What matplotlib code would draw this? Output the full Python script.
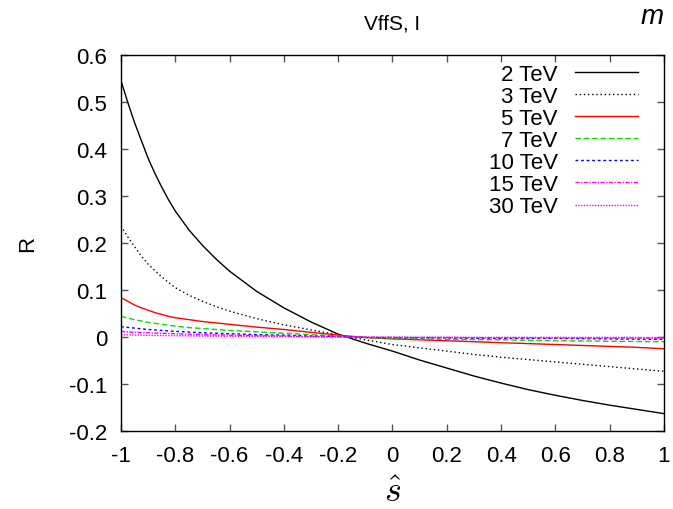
import matplotlib
matplotlib.use("Agg")
import matplotlib.pyplot as plt

plt.rcParams['font.family'] = ['Liberation Sans', 'DejaVu Sans']
plt.rcParams['mathtext.fontset'] = 'cm'

# s-hat grid and R values
s_hat = [-1.0, -0.975, -0.95, -0.925, -0.9, -0.875, -0.85, -0.825, -0.8,
         -0.75, -0.7, -0.65, -0.6, -0.5, -0.4, -0.3, -0.2, -0.1, 0.0, 0.1,
         0.2, 0.3, 0.4, 0.5, 0.6, 0.7, 0.8, 0.9, 1.0]

r_2tev = [0.545, 0.499, 0.456, 0.418, 0.380, 0.348, 0.319, 0.292, 0.268,
          0.228, 0.195, 0.166, 0.140, 0.097, 0.062, 0.032, 0.006, -0.013,
          -0.030, -0.049, -0.066, -0.083, -0.098, -0.112, -0.124, -0.135,
          -0.145, -0.154, -0.163]
r_3tev = [0.236, 0.213, 0.192, 0.172, 0.155, 0.141, 0.128, 0.116, 0.105,
          0.089, 0.076, 0.065, 0.055, 0.039, 0.026, 0.015, 0.005, -0.006,
          -0.016, -0.023, -0.030, -0.037, -0.043, -0.048, -0.053, -0.058,
          -0.063, -0.068, -0.073]
r_5tev = [0.084, 0.076, 0.068, 0.062, 0.057, 0.052, 0.048, 0.044, 0.041,
          0.037, 0.033, 0.030, 0.027, 0.021, 0.016, 0.010, 0.004, -0.001,
          -0.004, -0.006, -0.008, -0.010, -0.012, -0.014, -0.016, -0.018,
          -0.020, -0.022, -0.025]
r_7tev = [0.044, 0.040, 0.037, 0.034, 0.031, 0.029, 0.027, 0.025, 0.023,
          0.020, 0.018, 0.016, 0.014, 0.011, 0.008, 0.005, 0.002, -0.001,
          -0.003, -0.004, -0.005, -0.0055, -0.006, -0.007, -0.008, -0.0085,
          -0.009, -0.0095, -0.010]
r_10tev = [0.022, 0.0205, 0.019, 0.0175, 0.016, 0.015, 0.014, 0.013, 0.012,
           0.0105, 0.009, 0.008, 0.007, 0.005, 0.004, 0.002, 0.001, -0.001,
           -0.001, -0.0015, -0.002, -0.0025, -0.003, -0.003, -0.003, -0.0035,
           -0.004, -0.0045, -0.005]
r_15tev = [0.012, 0.011, 0.010, 0.0095, 0.009, 0.0085, 0.008, 0.0075, 0.007,
           0.006, 0.005, 0.0045, 0.004, 0.003, 0.002, 0.001, 0.0005, -0.0005,
           -0.001, -0.001, -0.001, -0.0015, -0.0015, -0.0015, -0.002, -0.002,
           -0.002, -0.002, -0.0025]
r_30tev = [0.005, 0.0045, 0.004, 0.0038, 0.0035, 0.0032, 0.003, 0.0029,
           0.0028, 0.0024, 0.002, 0.0018, 0.0016, 0.0012, 0.0008, 0.0004,
           0.0001, -0.0002, -0.0004, -0.0005, -0.0006, -0.0007, -0.0007,
           -0.0008, -0.0008, -0.0009, -0.0009, -0.001, -0.001]

series = [
    ("2 TeV", r_2tev, "black", "-"),
    ("3 TeV", r_3tev, "black", (0, (1, 2))),
    ("5 TeV", r_5tev, "#ff0000", "-"),
    ("7 TeV", r_7tev, "#00e000", (0, (4, 2))),
    ("10 TeV", r_10tev, "#0000ff", (0, (2, 2))),
    ("15 TeV", r_15tev, "#ff00ff", (0, (3, 1, 1, 1))),
    ("30 TeV", r_30tev, "#ff00ff", (0, (1, 1))),
]

fig = plt.figure(figsize=(6.73, 5.10), dpi=100)
ax = fig.add_axes([0.1798, 0.1529, 0.8068, 0.7373])

for label, vals, color, ls in series:
    ax.plot(s_hat, vals, color=color, linestyle=ls, linewidth=1.0, label=label)

ax.set_xlim(-1, 1)
ax.set_ylim(-0.2, 0.6)
ax.set_xticks([-1, -0.8, -0.6, -0.4, -0.2, 0, 0.2, 0.4, 0.6, 0.8, 1])
ax.set_xticklabels(["-1", "-0.8", "-0.6", "-0.4", "-0.2", "0", "0.2", "0.4",
                    "0.6", "0.8", "1"])
ax.set_yticks([-0.2, -0.1, 0, 0.1, 0.2, 0.3, 0.4, 0.5, 0.6])
ax.set_yticklabels(["-0.2", "-0.1", "0", "0.1", "0.2", "0.3", "0.4", "0.5",
                    "0.6"])
ax.tick_params(direction="in", top=True, right=True, length=5, width=1,
               color="#555555", labelsize=16, pad=10)
for sp in ax.spines.values():
    sp.set_linewidth(1.0)

ax.set_title("VffS, I", fontsize=15, pad=19)
ax.set_ylabel("R", fontsize=16, labelpad=22)
ax.set_xlabel(r"$\hat{s}$", fontsize=26, labelpad=6)

ax.legend(loc="upper right", bbox_to_anchor=(0.952, 0.977), frameon=False,
          markerfirst=False, fontsize=16, handlelength=2.85,
          handletextpad=0.75, labelspacing=0.05, borderpad=0,
          borderaxespad=0)

# small label at the top right corner of the page
fig.text(0.952, 1 - 24 / 510, "m", fontsize=20, fontstyle="italic",
         va="baseline", ha="left")

fig.savefig("out.png", dpi=100)
